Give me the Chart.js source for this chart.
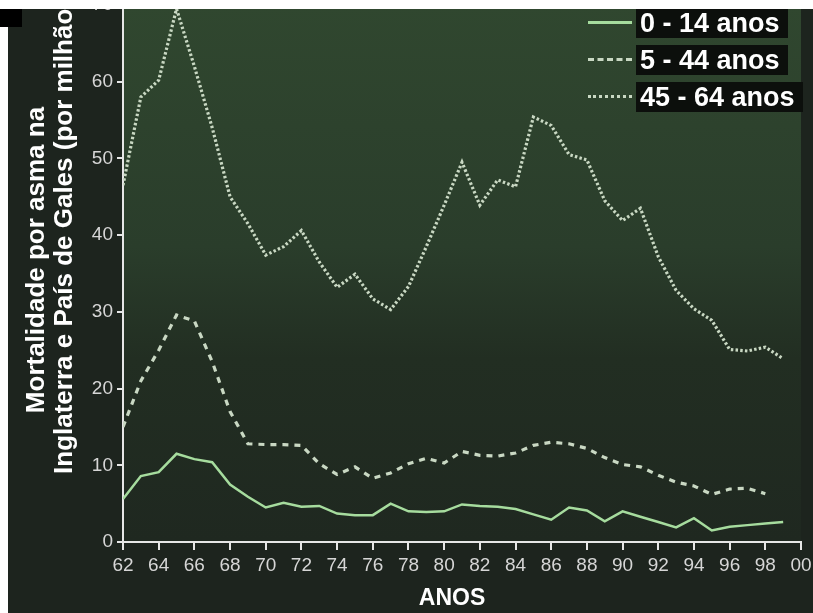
<!DOCTYPE html>
<html>
<head>
<meta charset="utf-8">
<script src="https://cdn.jsdelivr.net/npm/chart.js@4.4.0/dist/chart.umd.min.js"></script>
<style>
  html, body { margin: 0; padding: 0; background: #fff; }
  #wrap { position: relative; width: 813px; height: 613px; overflow: hidden; background: #fff; }
  #fundo { position: absolute; left: 8px; top: 9px; right: 0; bottom: 0; background: #1d241e; }
  #tarja { position: absolute; left: 0; top: 9px; width: 22px; height: 18px; background: #000; z-index: 5; }
  #topo { position: absolute; left: 0; top: 0; width: 813px; height: 9px; background: #fff; z-index: 4; }
  canvas { position: absolute; left: 0; top: 0; }
  .ytit {
    position: absolute; width: 700px; height: 30px; line-height: 30px;
    transform: rotate(-90deg); transform-origin: 350px 15px;
    text-align: center; color: #fff; font: bold 26px "Liberation Sans", Arial, sans-serif;
    white-space: nowrap; z-index: 2;
  }
  #xtit { position: absolute; left: 352px; width: 200px; top: 584px; text-align: center; color: #fff;
          font: bold 23px "Liberation Sans", Arial, sans-serif; z-index: 2; }
  .leg { position: absolute; left: 588px; height: 30px; z-index: 3; }
  .leg .amostra { position: absolute; left: 0; top: 13px; width: 44px; height: 0; }
  .leg .txt {
    position: absolute; left: 48px; top: 0; height: 30px; line-height: 30px; padding: 0 8px 0 4px;
    background: #0c0f0c; color: #fff; font: bold 27px "Liberation Sans", Arial, sans-serif; white-space: nowrap;
  }
</style>
</head>
<body>
<div id="wrap">
  <div id="fundo"></div>
  <canvas id="grafico" width="813" height="613"></canvas>
  <div class="ytit" style="left:-315px; top:245px;">Mortalidade por asma na</div>
  <div class="ytit" style="left:-287px; top:222px;">Inglaterra e País de Gales (por milhão)</div>
  <div id="xtit">ANOS</div>
  <div id="legenda"></div>
  <div id="topo"></div>
  <div id="tarja"></div>
</div>
<script>
// anos 1962-1999
const anos = [62,63,64,65,66,67,68,69,70,71,72,73,74,75,76,77,78,79,80,
              81,82,83,84,85,86,87,88,89,90,91,92,93,94,95,96,97,98,99];

// mortalidade por milhão
const idade0a14 = [5.6,8.6,9.1,11.5,10.8,10.4,7.5,5.9,4.5,5.1,4.6,4.7,3.7,3.5,3.5,5.0,4.0,3.9,4.0,
                   4.9,4.7,4.6,4.3,3.6,2.9,4.5,4.1,2.7,4.0,3.3,2.6,1.9,3.1,1.5,2.0,2.2,2.4,2.6];
const idade5a44 = [15,21,25,29.6,28.8,23.5,17,12.8,12.7,12.7,12.6,10.2,8.8,9.8,8.3,9.0,10.2,10.9,10.3,
                   11.8,11.3,11.2,11.6,12.6,13.0,12.8,12.2,11.0,10.1,9.8,8.7,7.8,7.3,6.2,6.9,7.0,6.3,null];
const idade45a64 = [46.5,58,60.2,69.5,62,54,45,41.5,37.4,38.5,40.6,36.5,33.2,34.9,31.7,30.3,33.3,38.5,43.9,
                    49.5,43.9,47.2,46.3,55.4,54.3,50.5,49.8,44.5,41.9,43.5,37.2,32.8,30.4,28.9,25.1,24.9,25.4,23.9];

const rotulosSerie = ['0 - 14 anos', '5 - 44 anos', '45 - 64 anos'];
const coresSerie = ['#a6dc9e', '#c9d8c3', '#c9d8c3'];
const tracosSerie = [[], [6, 6], [2.5, 2.2]];
const estiloLegenda = ['solid', 'dashed', 'dotted'];

const pontos = vals => anos.map((a, i) => ({ x: a, y: vals[i] }));

// fundo da área do gráfico (degradê verde)
const fundoPlot = {
  id: 'fundoPlot',
  beforeDraw(chart) {
    const { ctx, chartArea: a } = chart;
    const g = ctx.createLinearGradient(0, a.top, 0, a.bottom);
    g.addColorStop(0, '#30472f');
    g.addColorStop(0.45, '#2a3d2b');
    g.addColorStop(0.66, '#222e22');
    g.addColorStop(1, '#1f2820');
    ctx.save();
    ctx.fillStyle = g;
    ctx.fillRect(a.left, a.top, a.right - a.left, a.bottom - a.top);
    ctx.restore();
  }
};

const fonteTick = { family: '"Liberation Sans", Arial, sans-serif', size: 19 };

new Chart(document.getElementById('grafico'), {
  type: 'line',
  data: {
    datasets: [idade0a14, idade5a44, idade45a64].map((v, i) => ({
      label: rotulosSerie[i],
      data: pontos(v),
      borderColor: coresSerie[i],
      borderWidth: i === 0 ? 2.5 : 3.2,
      borderDash: tracosSerie[i],
      pointRadius: 0,
      tension: 0,
      fill: false,
      spanGaps: false
    }))
  },
  options: {
    responsive: false,
    animation: false,
    layout: { padding: { left: 8, top: 5, right: 12, bottom: 0 } },
    plugins: { legend: { display: false }, tooltip: { enabled: false } },
    scales: {
      x: {
        type: 'linear',
        min: 62, max: 100,
        ticks: {
          stepSize: 2, color: '#d6d6d6', font: fonteTick, padding: 4, autoSkip: false, maxRotation: 0,
          callback: v => String(v % 100).padStart(2, '0')
        },
        grid: { drawOnChartArea: false, color: '#e6e6e6', lineWidth: 2, tickLength: 8 },
        border: { color: '#e6e6e6', width: 2 },
        afterFit(s) { s.height = 71; s.paddingLeft = 0; s.paddingRight = 0; }
      },
      y: {
        min: 0, max: 70,
        ticks: { stepSize: 10, color: '#d6d6d6', font: fonteTick, padding: 4 },
        grid: { drawOnChartArea: false, color: '#e6e6e6', lineWidth: 2, tickLength: 6 },
        border: { color: '#e6e6e6', width: 2 },
        afterFit(s) { s.width = 115; s.paddingTop = 0; s.paddingBottom = 0; }
      }
    }
  },
  plugins: [fundoPlot]
});

// legenda no canto superior direito
const legenda = document.getElementById('legenda');
rotulosSerie.forEach((r, i) => {
  const item = document.createElement('div');
  item.className = 'leg';
  item.style.top = (8 + i * 37) + 'px';
  item.innerHTML = '<div class="amostra" style="border-top:3px ' + estiloLegenda[i] + ' ' + coresSerie[i] + '"></div>' +
                   '<div class="txt">' + r + '</div>';
  legenda.appendChild(item);
});
</script>
</body>
</html>
